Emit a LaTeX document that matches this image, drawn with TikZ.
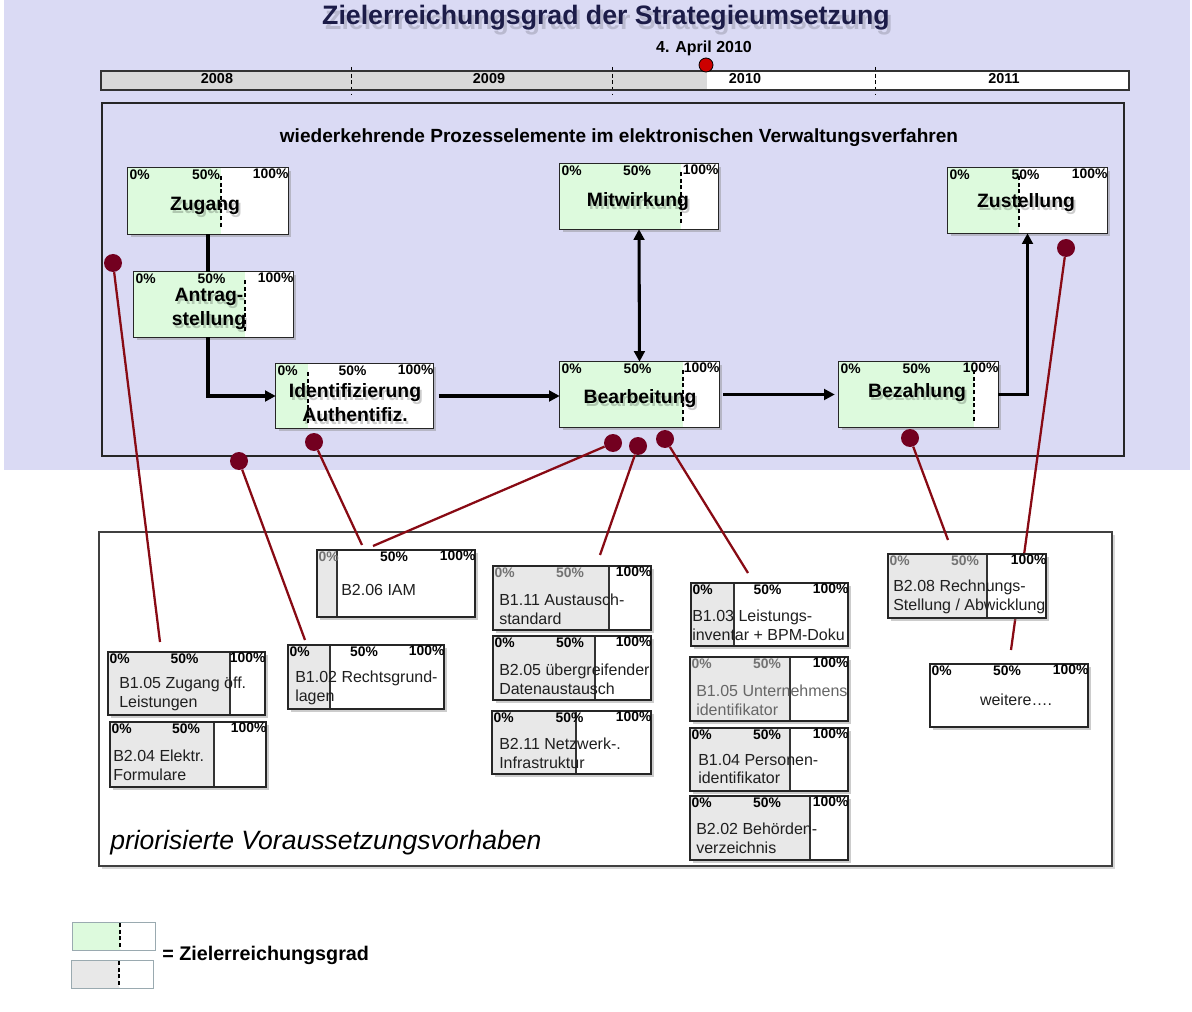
\documentclass[tikz,border=0pt]{standalone}
\usepackage{fontspec}
\setmainfont{Liberation Sans}
\usetikzlibrary{shadows,fit,arrows.meta,calc}

\definecolor{lav}{HTML}{DADAF4}
\definecolor{prgreen}{HTML}{DDFADD}
\definecolor{prgrey}{HTML}{E8E8E8}
\definecolor{tlgrey}{HTML}{D9D9D9}
\definecolor{dotred}{HTML}{730020}
\definecolor{linkred}{HTML}{880A14}
\definecolor{navy}{HTML}{1C1C48}
\definecolor{legline}{HTML}{9AAAB0}
\definecolor{nowred}{HTML}{CC0000}

% percentage scale on top of a progress box
\newcommand\pcts[3]{%
  \node[pct,text=#2,anchor=north west] (#1-p0) at ([shift={(1,1)}]#1.north west) {0\%};
  \node[pct,text=#3,anchor=north] (#1-p50) at ([shift={(-2,1)}]#1.north) {50\%};
  \node[pct,anchor=north east] (#1-p100) at ([shift={(1,0)}]#1.north east) {100\%};
}
% process element: name, x1, y1, x2, y2, progress x
\newcommand\topbox[6]{%
  \node[boxnode, fit={(#2,#3) (#4,#5)}] (#1) {};
  \fill[prgreen] (#1.north west) rectangle (#6,#5);
  \draw[goalmark] (#6,#3+8) -- (#6,#5-5);
  \draw[topframe] (#1.north west) rectangle (#1.south east);
  \pcts{#1}{black}{black}%
}
% prerequisite project: name, x1, y1, x2, y2, progress x, colour of 0%, colour of 50%
\newcommand\prebox[8]{%
  \node[boxnode, fit={(#2,#3) (#4,#5)}] (#1) {};
  \fill[prgrey] (#1.north west) rectangle (#6,#5);
  \draw[splitline] (#6,#3) -- (#6,#5);
  \draw[preframe] (#1.north west) rectangle (#1.south east);
  \pcts{#1}{#7}{#8}%
}
% bold label with a soft shadow: name, position (x,y), text
\newcommand\sdtext[3]{%
  \node[ttext,text=black,opacity=.2] (#1-sh) at ($(#2)+(2,2.5)$) {#3};
  \node[ttext] (#1) at (#2) {#3};
}

\begin{document}
\begin{tikzpicture}[x=0.75pt,y=-0.75pt,
  pct/.style={font=\fontsize{10.4}{11}\selectfont\bfseries, inner sep=0.5pt},
  ttext/.style={font=\fontsize{14.5}{18}\selectfont\bfseries, align=center, inner sep=0pt},
  ptext/.style={font=\fontsize{12}{14}\selectfont, align=left, inner sep=0pt, text=black!88, anchor=west},
  boxnode/.style={fill=white, inner sep=0pt,
    drop shadow={shadow xshift=2.5pt, shadow yshift=-2.5pt, opacity=.4}},
  topframe/.style={draw=black!85, line width=1.1pt},
  preframe/.style={draw=black!85, line width=1.4pt},
  goalmark/.style={draw=black, line width=0.8pt, dash pattern=on 3pt off 2pt},
  splitline/.style={draw=black!80, line width=1pt},
  flow/.style={line width=2.3pt, draw=black},
  tip/.style={-{Triangle[length=8pt,width=8pt]}},
  dot/.style={circle, fill=dotred, inner sep=0pt, minimum size=13.5pt},
  link/.style={draw=linkred, line width=1.7pt},
  year/.style={font=\fontsize{10.8}{11}\selectfont\bfseries, inner sep=0pt},
  heading/.style={font=\fontsize{20}{24}\selectfont\bfseries},
]
\useasboundingbox (0,0) rectangle (1192,1012);
\fill[white] (0,0) rectangle (1192,1012);
\fill[lav] (4,0) rectangle (1190,470);

% title
\node[heading, text=black, opacity=.15] (title-sh) at (609,23) {Zielerreichungsgrad der Strategieumsetzung};
\node[heading, text=navy] (title) at (606,18) {Zielerreichungsgrad der Strategieumsetzung};

% time line
\node[fit={(101,71) (1129,90)}, inner sep=0pt, fill=white] (tl) {};
\fill[tlgrey] (tl.north west) rectangle (707,90);
\foreach \x in {351,612,875} \draw[goalmark, line width=0.6pt] (\x,67) -- (\x,95);
\draw[draw=black!80, line width=1.3pt] (tl.north west) rectangle (tl.south east);
\node[year] (y2008) at (217,79) {2008};
\node[year] (y2009) at (489,79) {2009};
\node[year] (y2010) at (745,79) {2010};
\node[year] (y2011) at (1004,79) {2011};
\node[font=\fontsize{12}{13}\selectfont\bfseries, inner sep=0pt] (date) at (704,48) {4. April 2010};
\node[circle, fill=nowred, draw=black, line width=0.6pt, minimum size=10.5pt, inner sep=0pt] (now) at (706,65) {};

% process frame
\node[fit={(102,103) (1124,456)}, inner sep=0pt, draw=black!85, line width=1pt] (proc) {};
\node[font=\fontsize{14.3}{16}\selectfont\bfseries, inner sep=0pt] (proc-t) at (619,138)
  {wiederkehrende Prozesselemente im elektronischen Verwaltungsverfahren};

% process elements
\topbox{zug}{128}{168}{288}{234}{221}
\topbox{ant}{134}{272}{293}{337}{245}
\topbox{idf}{276}{364}{433}{428}{308}
\topbox{mit}{560}{164}{718}{229}{681}
\topbox{bea}{560}{362}{719}{427}{683}
\topbox{bez}{839}{362}{998}{427}{974}
\topbox{zus}{948}{168}{1107}{233}{1019}

\sdtext{zug-t}{205,206}{Zugang}
\sdtext{ant-t}{209,309}{Antrag-\\stellung}
\sdtext{idf-t}{355,403}{Identifizierung\\Authentifiz.}
\sdtext{mit-t}{638,202}{Mitwirkung}
\sdtext{bea-t}{640,399}{Bearbeitung}
\sdtext{bez-t}{917,393}{Bezahlung}
\sdtext{zus-t}{1026,203}{Zustellung}

% process flow
\draw[flow] (zug.south) -- (zug.south |- ant.north);
\draw[flow,tip] (ant.south -| zug.south) |- (idf.west);
\draw[flow,tip,shorten <=4pt] (idf.east) -- (idf.east -| bea.west);
\draw[flow,{Triangle[length=8pt,width=8pt]}-{Triangle[length=8pt,width=8pt]}] (mit.south) -- (bea.north);
\draw[flow,tip,shorten <=3pt,shorten >=3pt] (bea.east) -- (bez.west);
\draw[flow,tip] (bez.east) -| (zus.south);

% prerequisite frame
\node[fit={(99,532) (1112,866)}, inner sep=0pt, fill=white, draw=black!75, line width=0.8pt,
  drop shadow={shadow xshift=2pt, shadow yshift=-2pt, opacity=.3}] (pre) {};
\node[font=\fontsize{19.9}{22}\selectfont\itshape, anchor=west, inner sep=0pt] (pre-t) at (110,843)
  {priorisierte Voraussetzungsvorhaben};

% links from process elements to prerequisite projects
\node[dot] (d1) at (113,263) {};
\node[dot] (d2) at (239,461) {};
\node[dot] (d3) at (314,442) {};
\node[dot] (d4) at (613,443) {};
\node[dot] (d5) at (638,446) {};
\node[dot] (d6) at (665,439) {};
\node[dot] (d7) at (910,438) {};
\node[dot] (d8) at (1066,248) {};
\coordinate (e1) at (160,642);
\coordinate (e2) at (305,640);
\coordinate (e3) at (362,545);
\coordinate (e4) at (373,546);
\coordinate (e5) at (600,555);
\coordinate (e6) at (748,573);
\coordinate (e7) at (948,540);
\coordinate (e8) at (1011,650);
\foreach \i in {1,...,8} \draw[link] (d\i) -- (e\i);

% prerequisite projects
\prebox{iam}{317}{550}{475}{617}{337}{black!55}{black}
\prebox{zoe}{108}{652}{265}{715}{230}{black}{black}
\prebox{frm}{110}{722}{266}{787}{214}{black}{black}
\prebox{rgl}{288}{645}{444}{709}{330}{black}{black}
\prebox{aus}{493}{566}{651}{630}{609}{black!55}{black!55}
\prebox{dat}{493}{636}{651}{700}{595}{black}{black}
\prebox{net}{492}{711}{651}{774}{576}{black}{black}
\prebox{lei}{691}{583}{848}{646}{734}{black}{black}
\prebox{unt}{690}{657}{848}{721}{790}{black!55}{black!55}
\prebox{per}{690}{728}{848}{791}{790}{black}{black}
\prebox{beh}{690}{796}{848}{860}{810}{black}{black}
\prebox{rec}{888}{554}{1046}{618}{987}{black!55}{black!55}
\prebox{wei}{930}{664}{1088}{727}{930}{black}{black}

\node[ptext] (iam-t) at (341,590) {B2.06 IAM};
\node[ptext] (zoe-t) at (119,694) {B1.05 Zugang öff.\\Leistungen};
\node[ptext] (frm-t) at (113,765) {B2.04 Elektr.\\Formulare};
\node[ptext] (rgl-t) at (295,688) {B1.02 Rechtsgrund-\\lagen};
\node[ptext] (aus-t) at (499,609) {B1.11 Austausch-\\standard};
\node[ptext] (dat-t) at (499,679) {B2.05 übergreifender\\Datenaustausch};
\node[ptext] (net-t) at (499,753) {B2.11 Netzwerk-.\\Infrastruktur};
\node[ptext] (lei-t) at (692,625) {B1.03 Leistungs-\\inventar + BPM-Doku};
\node[ptext, text=black!60] (unt-t) at (696,700) {B1.05 Unternehmens\\identifikator};
\node[ptext] (per-t) at (698,769) {B1.04 Personen-\\identifikator};
\node[ptext] (beh-t) at (696,838) {B2.02 Behörden-\\verzeichnis};
\node[ptext] (rec-t) at (893,597) {B2.08 Rechnungs-\\Stellung / Abwicklung};
\node[ptext, anchor=center] (wei-t) at (1016,700) {weitere….};

% legend
\node[fit={(73,923) (155,950)}, inner sep=0pt, fill=white] (leg1) {};
\fill[prgreen] (leg1.north west) rectangle (120,950);
\draw[goalmark] (120,923) -- (120,950);
\draw[draw=legline, line width=1.1pt] (leg1.north west) rectangle (leg1.south east);
\node[fit={(72,961) (153,988)}, inner sep=0pt, fill=white] (leg2) {};
\fill[prgrey] (leg2.north west) rectangle (119,988);
\draw[goalmark] (119,961) -- (119,988);
\draw[draw=legline, line width=1.1pt] (leg2.north west) rectangle (leg2.south east);
\node[font=\fontsize{14.8}{16}\selectfont\bfseries, anchor=west, inner sep=0pt] (leg-t) at (162,955) {= Zielerreichungsgrad};
\end{tikzpicture}
\end{document}
